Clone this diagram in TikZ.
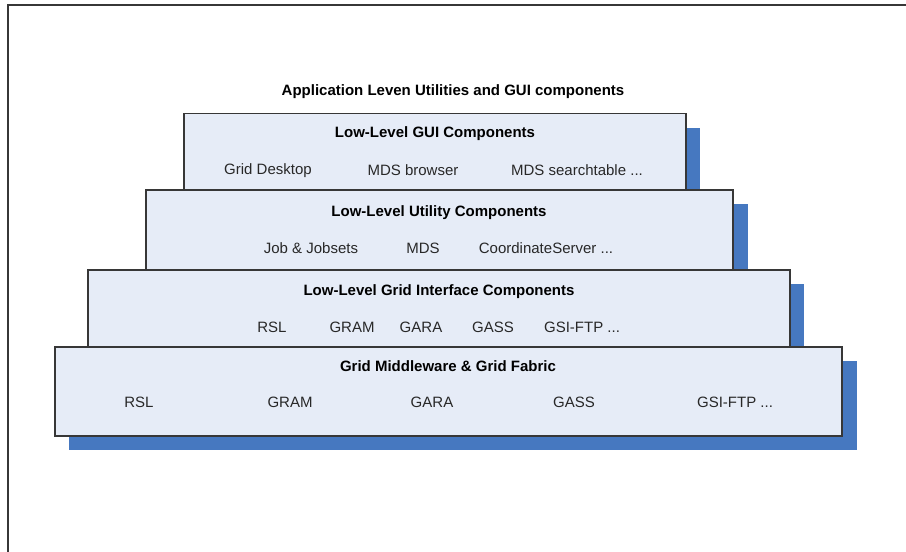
\documentclass[tikz,border=0pt]{standalone}
\usepackage{fontspec}
\setmainfont{Liberation Sans}
\definecolor{layerfill}{RGB}{230,236,247}
\definecolor{shadowc}{RGB}{70,120,192}
\definecolor{edgec}{RGB}{55,55,55}
\definecolor{txtc}{RGB}{40,40,40}
\begin{document}
\begin{tikzpicture}[x=1pt,y=-1pt,
  layer/.style={draw=edgec,line width=1.2pt,fill=layerfill,inner sep=0pt,anchor=center},
  shade/.style={fill=shadowc},
  ttl/.style={font=\fontsize{15}{18}\selectfont\bfseries,text=black,inner sep=0pt,yshift=-1.5pt},
  itm/.style={font=\fontsize{15}{18}\selectfont,text=txtc,inner sep=0pt,yshift=-1.5pt}]
\useasboundingbox (0,0) rectangle (906,552);
\fill[white] (0,0) rectangle (906,552);
\draw[edgec,line width=1.5pt] (8,552) -- (8,5) -- (906,5);

\node[ttl] (apptitle) at (453,90) {Application Leven Utilities and GUI components};

% layer 1
\fill[shade] (198,128) rectangle (700,203.5);
\node[layer,minimum width=502pt,minimum height=76pt] (gui) at (435,151.5) {};
\node[ttl] (guititle) at (435,132) {Low-Level GUI Components};
\node[itm] (gd) at (268,169) {Grid Desktop};
\node[itm] (mdsb) at (413,169) {MDS browser};
\node[itm] (mdss) at (577,169) {MDS searchtable ...};

% layer 2
\fill[shade] (160,204) rectangle (748,284);
\node[layer,minimum width=587pt,minimum height=80pt] (util) at (439.5,230) {};
\node[ttl] (utiltitle) at (439,211) {Low-Level Utility Components};
\node[itm] (job) at (311,247) {Job \& Jobsets};
\node[itm] (mds) at (423,247) {MDS};
\node[itm] (coord) at (546,247) {CoordinateServer ...};

% layer 3
\fill[shade] (102,284) rectangle (804,361);
\node[layer,minimum width=702pt,minimum height=77pt] (gif) at (439,308.5) {};
\node[ttl] (giftitle) at (439,290) {Low-Level Grid Interface Components};
\node[itm] (rsla) at (272,326) {RSL};
\node[itm] (grama) at (352,326) {GRAM};
\node[itm] (garaa) at (421,326) {GARA};
\node[itm] (gassa) at (493,326) {GASS};
\node[itm] (gsia) at (582,326) {GSI-FTP ...};

% layer 4
\fill[shade] (69,361) rectangle (857,450);
\node[layer,minimum width=787pt,minimum height=89pt] (mw) at (448.5,391.5) {};
\node[ttl] (mwtitle) at (448,365) {Grid Middleware \& Grid Fabric};
\node[itm] (rslb) at (139,401) {RSL};
\node[itm] (gramb) at (290,401) {GRAM};
\node[itm] (garab) at (432,401) {GARA};
\node[itm] (gassb) at (574,401) {GASS};
\node[itm] (gsib) at (735,401) {GSI-FTP ...};
\end{tikzpicture}
\end{document}
